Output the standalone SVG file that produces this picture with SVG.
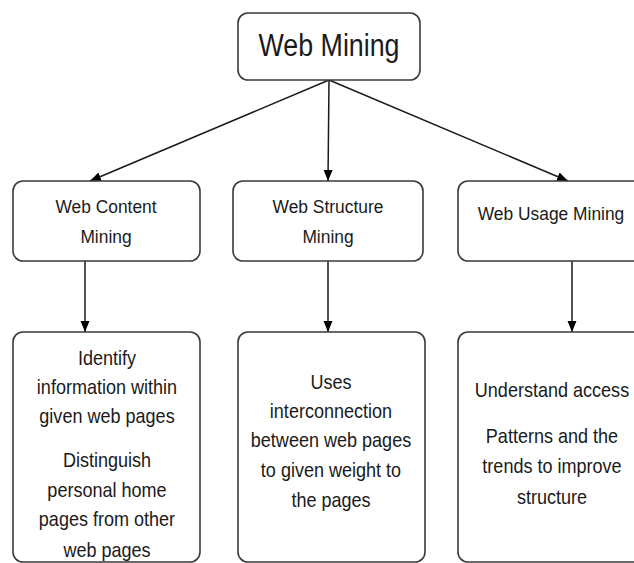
<svg xmlns="http://www.w3.org/2000/svg" width="634" height="563" viewBox="0 0 634 563">
<defs>
<style>
.box{fill:#fff;stroke:#3a3a3a;stroke-width:1.6}
.t{font-family:"Liberation Sans",Arial,sans-serif;fill:#1a1a1a;text-anchor:middle}
.h{font-size:31px}
.m{font-size:18.5px}
.b{font-size:20.5px}
.c{stroke:#1a1a1a;stroke-width:1.5;fill:none;marker-end:url(#ah)}
</style>
<marker id="ah" viewBox="0 0 11 10" refX="11" refY="5" markerWidth="11" markerHeight="10" markerUnits="userSpaceOnUse" orient="auto">
<path d="M0,0.5 L11,5 L0,9.5 Z" fill="#000"/>
</marker>
</defs>
<rect width="634" height="563" fill="#fff"/>
<g id="connectors">
<line class="c" x1="329" y1="80" x2="90" y2="181"/>
<line class="c" x1="329" y1="80" x2="328" y2="181"/>
<line class="c" x1="329" y1="80" x2="568" y2="181"/>
<line class="c" x1="85" y1="261" x2="85" y2="332"/>
<line class="c" x1="328" y1="261" x2="328" y2="332"/>
<line class="c" x1="572" y1="261" x2="572" y2="332"/>
</g>
<g id="web-mining">
<rect class="box" x="238" y="13" width="182" height="67" rx="10"/>
<text class="t h" x="329" y="56" textLength="141" lengthAdjust="spacingAndGlyphs">Web Mining</text>
</g>
<g id="web-content-mining">
<rect class="box" x="13" y="181" width="187" height="80" rx="10"/>
<g transform="translate(106,0) scale(0.94,1) translate(-106,0)">
<text class="t m" x="106" y="213">Web Content</text>
<text class="t m" x="106" y="243">Mining</text>
</g>
</g>
<g id="web-structure-mining">
<rect class="box" x="233" y="181" width="190" height="80" rx="10"/>
<g transform="translate(328,0) scale(0.94,1) translate(-328,0)">
<text class="t m" x="328" y="213">Web Structure</text>
<text class="t m" x="328" y="243">Mining</text>
</g>
</g>
<g id="web-usage-mining">
<rect class="box" x="458" y="181" width="200" height="80" rx="10"/>
<g transform="translate(551,0) scale(0.94,1) translate(-551,0)">
<text class="t m" x="551" y="220">Web Usage Mining</text>
</g>
</g>
<g id="content-desc">
<rect class="box" x="13" y="332" width="187" height="230" rx="10"/>
<g transform="translate(107,0) scale(0.88,1) translate(-107,0)">
<text class="t b" x="107" y="365">Identify</text>
<text class="t b" x="107" y="394">information within</text>
<text class="t b" x="107" y="423">given web pages</text>
<text class="t b" x="107" y="467">Distinguish</text>
<text class="t b" x="107" y="497">personal home</text>
<text class="t b" x="107" y="526">pages from other</text>
<text class="t b" x="107" y="557">web pages</text>
</g>
</g>
<g id="structure-desc">
<rect class="box" x="238" y="332" width="187" height="230" rx="10"/>
<g transform="translate(331,0) scale(0.88,1) translate(-331,0)">
<text class="t b" x="331" y="389">Uses</text>
<text class="t b" x="331" y="418">interconnection</text>
<text class="t b" x="331" y="447">between web pages</text>
<text class="t b" x="331" y="477">to given weight to</text>
<text class="t b" x="331" y="507">the pages</text>
</g>
</g>
<g id="usage-desc">
<rect class="box" x="458" y="332" width="200" height="230" rx="10"/>
<g transform="translate(552,0) scale(0.88,1) translate(-552,0)">
<text class="t b" x="552" y="397">Understand access</text>
<text class="t b" x="552" y="443">Patterns and the</text>
<text class="t b" x="552" y="473">trends to improve</text>
<text class="t b" x="552" y="504">structure</text>
</g>
</g>
</svg>
